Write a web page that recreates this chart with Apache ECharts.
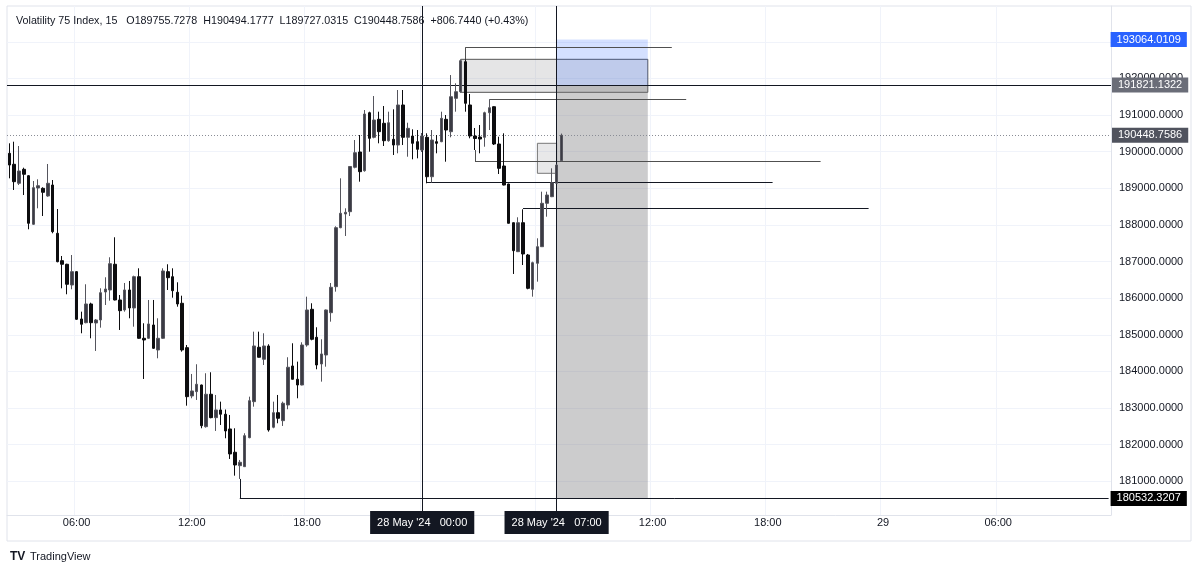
<!DOCTYPE html>
<html><head><meta charset="utf-8">
<script src="https://cdn.jsdelivr.net/npm/echarts@6/dist/echarts.min.js"></script>
<style>html,body{margin:0;padding:0;background:#fff}#c{width:1200px;height:573px}</style>
</head><body><div id="c"></div>
<script>
// ---------- DATA ----------
const symbolTitle = 'Volatility 75 Index, 15';
const changeText = '+806.7440 (+0.43%)';
const startTimeUTC = Date.UTC(2024, 4, 27, 2, 30); // first candle 27 May 02:30
const slotCount = 230;                               // visible 15-min slots incl. empty future
const opens = [189956,189656,189137,189519,189344,188018,189009,189000,188790,189090,
187772,187024,186926,186360,186724,185432,185331,185842,185323,185405,
186169,186224,186926,185951,185678,186224,185733,186587,184905,184905,
185268,184586,184905,186724,186587,186161,185861,184649,183330,183448,
183630,182492,183377,182738,182948,182831,182429,181793,181427,181400,
182192,183175,184660,184332,184695,182476,182874,182656,183084,184149,
183786,183630,184722,185697,184933,184204,184449,185604,186314,187925,
188299,188362,189574,189991,189481,191064,190393,190884,190775,190300,
190338,190182,191275,190393,190428,190273,190046,190393,189317,190273,
190273,190884,190546,191457,191638,192457,191275,190428,190401,190393,
191064,191228,190210,189609,189118,188061,187270,188061,187179,186243,
186953,187406,188591,188771,189137,189755.7278];
const closes = [189636,189181,189473,189383,188045,189017,189071,188891,189137,187816,
186997,186926,186380,186724,185424,185288,185842,185331,185405,186150,
186251,186942,185951,185659,186224,185733,186587,184905,184859,185296,
184632,184905,186743,186560,186205,185842,184586,183311,183467,183650,
182519,183377,182738,182948,182831,182375,181747,181446,181520,182246,
183202,184695,184387,184695,182402,182874,182721,183131,184114,183786,
183630,184722,185678,184878,184176,184477,185678,186298,187925,188318,
188345,189596,189972,189454,191029,190365,190865,190546,190300,190791,
190182,191275,190393,190638,190229,190065,190428,189317,190319,190229,
190911,190592,191501,191638,192484,191321,190428,190360,190346,191064,
191201,190210,189546,189090,188045,187297,188061,187207,186270,186969,
187406,188591,188817,189153,189636,190448.7586];
const lows = [189273,188954,189090,188817,187881,188000,188454,188244,188770,187772,
186980,186270,186107,186243,185405,185042,185315,184905,184559,185195,
185814,185932,185940,185132,185632,185451,185222,184890,183794,184890,
184614,184359,184890,186224,186014,185768,184540,183065,183267,183221,
182448,182465,182721,182375,182538,182175,181610,181154,181064,181390,
182175,183038,184380,184176,182356,182448,182585,182511,182967,183780,
183267,183620,184676,184850,184059,183721,184130,185359,186178,187910,
187698,188244,189546,189181,189454,190000,190365,190229,190155,190273,
189910,189956,190182,189863,189792,189819,189991,189137,189153,189956,
190260,189727,190393,191092,191610,191092,190365,190046,189956,190136,
190592,190182,189391,189080,188040,186661,187260,186906,186243,186041,
186451,187400,188225,188760,189130,189727.0315];
const highs = [190229,190273,190155,189563,189363,189200,189246,189028,189664,189227,
188435,187152,186940,187179,186740,185632,186380,185877,185432,186270,
186571,187117,187663,186087,186415,186470,186614,186816,185315,185951,
185951,185451,186816,186926,186816,186434,186068,184722,183931,184196,
183640,183950,183977,183357,183175,182960,182811,182448,181583,182312,
183311,185086,185086,185042,184742,183175,183357,183175,184387,184769,
184267,184796,186041,185861,185206,184878,185690,186415,187963,189273,
188454,189609,190319,190455,191138,191092,191520,191092,191247,191092,
191157,191684,191684,190791,190611,190592,190510,190502,190592,190455,
191092,191001,192093,191867,192503,192520,191575,190647,190728,191092,
191430,191240,190409,190502,189125,188070,188209,188427,187207,186997,
187635,188908,188908,189546,189650,190494.1777];

// price axis
const yMin = 180080, yMax = 193978;
const yTicks = [181000,182000,183000,184000,185000,186000,187000,188000,189000,190000,191000,192000,193000];
// time axis ticks (slot index -> label)
const tickIdx    = [14, 38, 62, 86, 114, 134, 158, 182, 206];
const tickLabels = ['06:00','12:00','18:00',"28 May '24   00:00","28 May '24   07:00",'12:00','18:00','29','06:00'];
const boxedTicks = [86, 114];
const gridIdx    = [14, 38, 62, 86, 110, 134, 158, 182, 206];

// drawn levels
const mainLevel   = 191821.1322;
const lowLevel    = 180532.3207;
const targetLevel = 193064.0109;
const lastPrice   = 190448.7586;
const zoneBox  = {from: 94, to: 133, top: 192522, bottom: 191621};
const smallBox = {from: 110, to: 114, top: 190229, bottom: 189410};
const rangeFrom = 114, rangeTo = 133;
// rays: start slot, end slot, price, connector to price at start slot (or null)
const rays = [
  {from: 95,  to: 138, price: 192850,      link: 192520, color: '#505050'},
  {from: 100, to: 141, price: 191430,      link: null,   color: '#505050'},
  {from: 97,  to: 169, price: 189727.0315, link: 190046, color: '#505050'},
  {from: 87,  to: 159, price: 189153,      link: null,   color: '#131722'},
  {from: 107, to: 179, price: 188454,      link: null,   color: '#131722'},
  {from: 48,  to: 229, price: lowLevel,    link: 181064, color: '#131722'}
];
const vLines = [86, 114];

// ---------- CHART ----------
const pad = n => (n < 10 ? '0' : '') + n;
const categories = [];
for (let i = 0; i < slotCount; i++) {
  const t = new Date(startTimeUTC + i * 15 * 60000);
  categories.push(t.getUTCFullYear() + '-' + pad(t.getUTCMonth() + 1) + '-' + pad(t.getUTCDate()) + ' ' + pad(t.getUTCHours()) + ':' + pad(t.getUTCMinutes()));
}
const candles = opens.map((o, i) => [o, closes[i], lows[i], highs[i]]);
const f4 = v => v.toFixed(4);
const n = opens.length - 1;
const headerText = symbolTitle + '   O' + f4(opens[n]) + '  H' + f4(highs[n]) + '  L' + f4(lows[n]) + '  C' + f4(closes[n]) + '  ' + changeText;

const FONT = '"Liberation Sans", Arial, sans-serif';
const tagLabel = (text, bg, dist) => ({
  show: true, position: 'end', distance: dist, formatter: text,
  color: '#fff', backgroundColor: bg, padding: [2, 6, 2, 6], fontSize: 11, fontFamily: FONT
});

const lineData = [];
lineData.push({yAxis: mainLevel, lineStyle: {color: '#131722', width: 1, type: 'solid'}, label: tagLabel(f4(mainLevel), '#6a6d78', 1)});
lineData.push({yAxis: lastPrice, lineStyle: {color: '#8a8d96', width: 1, type: [1, 2]}, label: tagLabel(f4(lastPrice), '#50535e', 1)});
lineData.push([{coord: [rangeFrom, targetLevel], lineStyle: {color: 'rgba(255,255,255,0)', width: 1}, label: tagLabel(f4(targetLevel), '#2962ff', 2)}, {coord: [slotCount - 1, targetLevel]}]);
rays.forEach(r => {
  const isLow = r.price === lowLevel;
  lineData.push([{coord: [r.from, r.price], lineStyle: {color: r.color, width: 1, type: 'solid'},
    label: isLow ? tagLabel(f4(lowLevel), '#000000', 2) : {show: false}}, {coord: [r.to, r.price]}]);
  if (r.link !== null) {
    lineData.push([{coord: [r.from, r.price], lineStyle: {color: r.color, width: 1, type: 'solid'}, label: {show: false}}, {coord: [r.from, r.link]}]);
  }
});
vLines.forEach(ix => lineData.push({xAxis: ix, lineStyle: {color: '#131722', width: 1, type: 'solid'}, label: {show: false}}));

const areaData = [
  [{coord: [zoneBox.from, zoneBox.top], itemStyle: {color: 'rgba(150,150,155,0.25)', borderColor: '#555', borderWidth: 1}}, {coord: [zoneBox.to, zoneBox.bottom]}],
  [{coord: [smallBox.from, smallBox.top], itemStyle: {color: 'rgba(150,150,155,0.22)', borderColor: '#777', borderWidth: 1}}, {coord: [smallBox.to, smallBox.bottom]}],
  [{coord: [rangeFrom, mainLevel], itemStyle: {color: 'rgba(41,98,255,0.2)'}}, {coord: [rangeTo, targetLevel]}],
  [{coord: [rangeFrom, lowLevel], itemStyle: {color: 'rgba(120,120,123,0.38)'}}, {coord: [rangeTo, mainLevel]}]
];

const chart = echarts.init(document.getElementById('c'));
chart.setOption({
  animation: false,
  backgroundColor: '#ffffff',
  textStyle: {fontFamily: FONT},
  grid: {left: 7, right: 89, top: 6, bottom: 58, containLabel: false},
  xAxis: {
    type: 'category', data: categories, boundaryGap: true,
    axisLine: {show: true, lineStyle: {color: '#e0e3eb'}},
    axisTick: {show: false},
    splitLine: {show: true, interval: (i) => gridIdx.includes(i), lineStyle: {color: '#f0f3fa', width: 1}},
    axisLabel: {
      interval: (i) => tickIdx.includes(i), margin: 1, hideOverlap: false,
      formatter: (v, i) => {
        const k = tickIdx.indexOf(i);
        if (k < 0) return '';
        return boxedTicks.includes(i) ? '{b|' + tickLabels[k] + '}' : '{a|' + tickLabels[k] + '}';
      },
      rich: {
        a: {color: '#131722', fontSize: 11, fontFamily: FONT, padding: [6, 0, 6, 0], lineHeight: 13},
        b: {color: '#ffffff', fontSize: 11, fontFamily: FONT, backgroundColor: '#131722', padding: [6, 7, 6, 7], lineHeight: 13}
      }
    }
  },
  yAxis: {
    type: 'value', position: 'right', min: yMin, max: yMax, scale: true,
    axisLine: {show: true, lineStyle: {color: '#e0e3eb'}},
    axisTick: {show: false, customValues: yTicks},
    splitLine: {show: true, lineStyle: {color: '#f0f3fa', width: 1}},
    axisLabel: {customValues: yTicks, color: '#131722', fontSize: 11, fontFamily: FONT, margin: 8, formatter: v => v.toFixed(4)}
  },
  series: [
    {type: 'line', data: [], z: 1, silent: true, markArea: {silent: true, data: areaData}},
    {
      type: 'candlestick', z: 5, data: candles, barWidth: 3,
      itemStyle: {color: '#3b3b44', color0: '#0d0d0f', borderColor: '#55555d', borderColor0: '#0d0d0f', borderWidth: 1},
      markLine: {silent: true, symbol: ['none', 'none'], lineStyle: {type: 'solid'}, data: lineData}
    }
  ],
  graphic: [
    {type: 'text', x: 16, y: 15, z: 100, scaleX: 0.975, style: {text: headerText, fill: '#131722', font: '11px ' + FONT}},
    {type: 'line', shape: {x1: 1191, y1: 6, x2: 1191, y2: 541}, style: {stroke: '#e0e3eb', lineWidth: 1}},
    {type: 'line', shape: {x1: 7, y1: 541, x2: 1191, y2: 541}, style: {stroke: '#e0e3eb', lineWidth: 1}},
    {type: 'line', shape: {x1: 7, y1: 6, x2: 1191, y2: 6}, style: {stroke: '#e0e3eb', lineWidth: 1}},
    {type: 'line', shape: {x1: 7, y1: 6, x2: 7, y2: 541}, style: {stroke: '#e0e3eb', lineWidth: 1}},
    {type: 'text', left: 10, top: 551, style: {text: 'TV', fill: '#131722', font: 'bold 12px ' + FONT}},
    {type: 'text', left: 30, top: 551, style: {text: 'TradingView', fill: '#131722', font: '11px ' + FONT}}
  ]
});
</script></body></html>
